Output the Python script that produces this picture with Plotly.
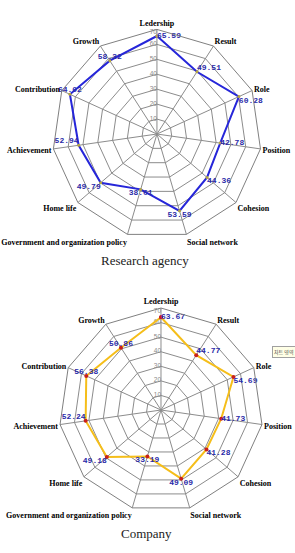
import plotly.graph_objects as go

categories = ["Ledership", "Result", "Role", "Position", "Cohesion", "Social network",
              "Government and organization policy", "Home life", "Achievement",
              "Contribution", "Growth"]
research_agency = [65.59, 49.51, 60.28, 42.78, 44.36, 53.59, 38.61, 49.79, 52.94, 64.02, 58.32]
company = [63.67, 44.77, 54.69, 41.73, 41.28, 49.09, 33.19, 49.18, 52.24, 56.38, 50.86]
radial_ticks = [0, 10, 20, 30, 40, 50, 60, 70]
titles = ["Research agency", "Company"]

label_pos = ["middle right", "top right", "bottom right", "middle right", "bottom right",
             "bottom center", "bottom center", "bottom left", "top left", "top center",
             "top center"]
tick_pos = ["middle left"] * 7 + ["bottom left"]

def closed(v):
    return list(v) + [v[0]]

label_font = dict(family="Liberation Mono", size=8, color="#2A2AA8", weight="bold")
tick_font = dict(family="Liberation Sans", size=6.5, color="#8A8A8A")

fig = go.Figure()
for sub in ["polar", "polar2"]:
    fig.add_trace(go.Scatterpolar(
        r=radial_ticks, theta=[categories[0]] * len(radial_ticks), mode="text",
        text=[str(t) for t in radial_ticks], textposition=tick_pos,
        textfont=tick_font, subplot=sub, hoverinfo="skip", showlegend=False))

fig.add_trace(go.Scatterpolar(
    r=closed(research_agency), theta=closed(categories), mode="lines+markers",
    line=dict(color="#2626D9", width=2), marker=dict(color="#B5A642", size=3),
    subplot="polar", hoverinfo="skip", showlegend=False))
fig.add_trace(go.Scatterpolar(
    r=research_agency, theta=categories, mode="text",
    text=[f"{v:.2f}" for v in research_agency], textposition=label_pos,
    textfont=label_font, subplot="polar", hoverinfo="skip", showlegend=False))
fig.add_trace(go.Scatterpolar(
    r=closed(company), theta=closed(categories), mode="lines+markers",
    line=dict(color="#F5BE1A", width=2), marker=dict(color="#C8201A", size=4),
    subplot="polar2", hoverinfo="skip", showlegend=False))
fig.add_trace(go.Scatterpolar(
    r=company, theta=categories, mode="text",
    text=[f"{v:.2f}" for v in company], textposition=label_pos,
    textfont=label_font, subplot="polar2", hoverinfo="skip", showlegend=False))

def polar_cfg(xd, yd):
    return dict(
        domain=dict(x=xd, y=yd),
        bgcolor="white",
        gridshape="linear",
        radialaxis=dict(range=[0, 70], tickvals=radial_ticks, angle=90,
                        showticklabels=False, showline=False,
                        gridcolor="#8C8C8C", gridwidth=1, ticks=""),
        angularaxis=dict(categoryorder="array", categoryarray=categories,
                         direction="clockwise", rotation=90,
                         tickfont=dict(family="Liberation Serif", size=8, color="black",
                                       weight="bold"),
                         gridcolor="#8C8C8C", gridwidth=1, linecolor="#808080",
                         linewidth=1, ticks=""),
    )

fig.update_layout(
    width=295, height=553,
    margin=dict(l=0, r=0, t=0, b=0),
    paper_bgcolor="white",
    polar=polar_cfg([0.177, 0.887], [0.5685, 0.9468]),
    polar2=polar_cfg([0.2, 0.8915], [0.0741, 0.443]),
    annotations=[
        dict(text=titles[0], x=145 / 295, y=1 - 260 / 553, xref="paper", yref="paper",
             xanchor="center", yanchor="middle", showarrow=False,
             font=dict(family="Liberation Serif", size=13, color="#222")),
        dict(text=titles[1], x=146 / 295, y=1 - 533 / 553, xref="paper", yref="paper",
             xanchor="center", yanchor="middle", showarrow=False,
             font=dict(family="Liberation Serif", size=13, color="#222")),
        dict(text="차트 영역", x=272 / 295, y=1 - 352 / 553, xref="paper", yref="paper",
             xanchor="left", yanchor="middle", showarrow=False, bgcolor="#FFFFE6",
             bordercolor="#A0A0A0", borderwidth=1, borderpad=1,
             font=dict(family="Noto Sans CJK KR", size=5, color="#444")),
    ],
)

fig.write_html("out.html")
